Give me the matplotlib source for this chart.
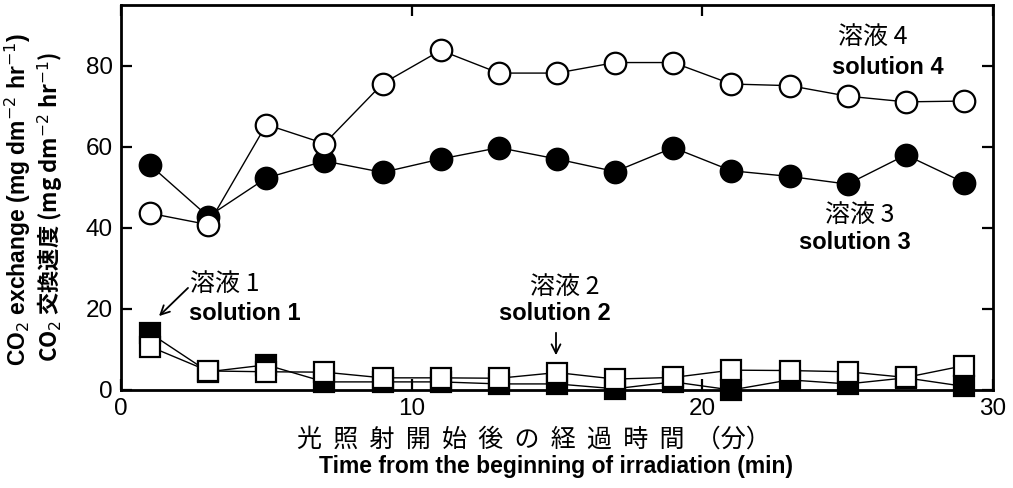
import numpy as np
import matplotlib
matplotlib.use('Agg')
import matplotlib.pyplot as plt

plt.rcParams['font.family'] = ['Liberation Sans', 'Noto Sans CJK JP', 'DejaVu Sans']

# minutes after start of irradiation
t = [1, 3, 5, 7, 9, 11, 13, 15, 17, 19, 21, 23, 25, 27, 29]

# CO2 exchange (mg dm-2 hr-1)
sol1 = [14.0, 4.5, 6.2, 2.0, 2.0, 2.0, 1.5, 1.5, 0.3, 2.0, 0.0, 2.5, 1.5, 3.0, 0.9]
sol2 = [10.7, 4.7, 4.5, 4.4, 3.0, 3.0, 2.9, 4.3, 2.7, 3.1, 4.9, 4.8, 4.5, 3.1, 6.0]
sol3 = [55.5, 42.8, 52.3, 56.5, 53.7, 57.0, 59.8, 57.0, 53.9, 59.8, 54.1, 52.7, 50.8, 58.0, 51.2]
sol4 = [43.6, 40.8, 65.5, 60.8, 75.6, 83.8, 78.2, 78.2, 80.8, 80.8, 75.5, 75.1, 72.5, 71.1, 71.3]

xticks = [0, 10, 20, 30]
yticks = [0, 20, 40, 60, 80]

jp = ['Noto Sans CJK JP', 'DejaVu Sans']

fig = plt.figure(figsize=(10.13, 4.88), dpi=100)
ax = fig.add_axes([121/1013, 1 - 390/488, 872/1013, 385/488])

lw = 1.0
mew = 1.6
ax.plot(t, sol1, '-', color='black', lw=lw, marker='s', ms=14, mfc='black',
        mec='black', mew=mew, clip_on=False, zorder=3)
ax.plot(t, sol2, '-', color='black', lw=lw, marker='s', ms=14, mfc='white',
        mec='black', mew=mew, clip_on=False, zorder=4)
ax.plot(t, sol3, '-', color='black', lw=lw, marker='o', ms=15.5, mfc='black',
        mec='black', mew=mew, clip_on=False, zorder=3)
ax.plot(t, sol4, '-', color='black', lw=lw, marker='o', ms=15.5, mfc='white',
        mec='black', mew=mew, clip_on=False, zorder=4)

ax.set_xlim(0, 30)
ax.set_ylim(0, 95)
ax.set_xticks(xticks)
ax.set_yticks(yticks)
ax.tick_params(direction='in', length=8, width=1.6, labelsize=17.5,
               top=True, right=True, pad=6)
for s in ax.spines.values():
    s.set_linewidth(2)

# two-line y label, English outside, Japanese inside
fig.text(18/1013, 1 - 200/488, r'CO$_2$ exchange (mg dm$^{-2}$ hr$^{-1}$)',
         rotation=90, ha='center', va='center', fontsize=16.5, weight='bold')
fig.text(50/1013, 1 - 207/488, r'CO$_2$ 交換速度 (mg dm$^{-2}$ hr$^{-1}$)',
         rotation=90, ha='center', va='center', fontsize=16,
         family='Noto Sans CJK JP', weight='bold')

# x label
fig.text(534/1013, 1 - 440/488, '光  照  射  開  始  後  の  経  過  時  間  （分）',
         ha='center', va='center', fontsize=18, family=jp)
fig.text(556/1013, 1 - 466/488, 'Time from the beginning of irradiation (min)',
         ha='center', va='center', fontsize=16.5, weight='bold')

def px(x, y):
    # pixel position -> data coordinates
    return ax.transData.inverted().transform(fig.transFigure.transform((x/1013, 1 - y/488)))

txt = dict(ha='center', va='center')
ax.text(*px(873, 37), '溶液 4', family=jp, fontsize=18, **txt)
ax.text(*px(888, 67), 'solution 4', fontsize=17, weight='bold', **txt)
ax.text(*px(860, 215), '溶液 3', family=jp, fontsize=18, **txt)
ax.text(*px(855, 242), 'solution 3', fontsize=17, weight='bold', **txt)
ax.text(*px(225, 284), '溶液 1', family=jp, fontsize=18, **txt)
ax.text(*px(245, 313), 'solution 1', fontsize=17, weight='bold', **txt)
ax.text(*px(565, 287), '溶液 2', family=jp, fontsize=18, **txt)
ax.text(*px(555, 314), 'solution 2', fontsize=17, weight='bold', **txt)

arrow = dict(arrowstyle='->', color='black', lw=1.3, mutation_scale=16)
ax.annotate('', xy=px(157, 318), xytext=px(190, 286), arrowprops=arrow)
ax.annotate('', xy=px(556, 358), xytext=px(556, 330), arrowprops=arrow)

fig.savefig('out.png', dpi=100)
